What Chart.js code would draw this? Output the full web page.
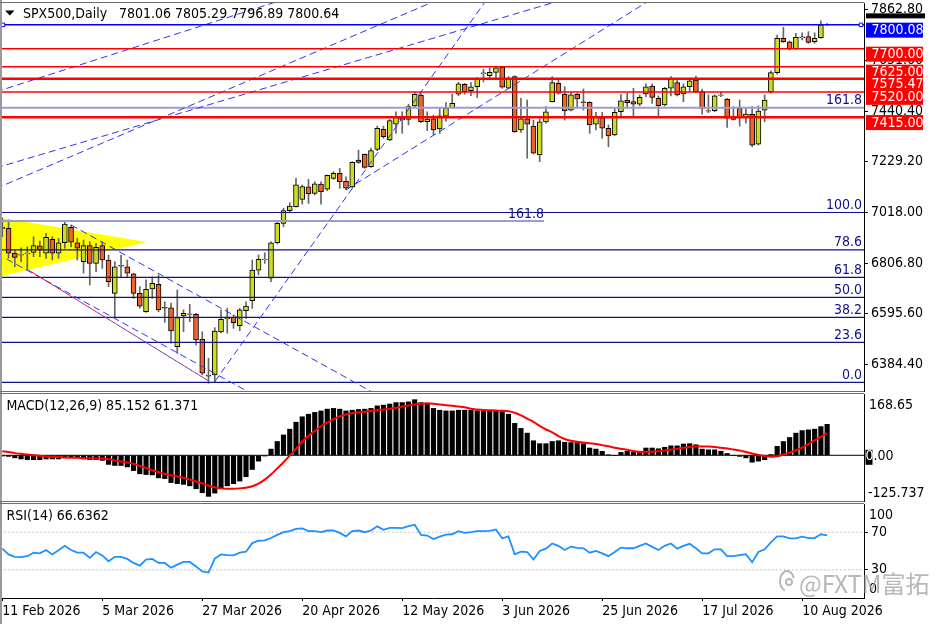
<!DOCTYPE html>
<html>
<head>
<meta charset="utf-8">
<script src="https://cdn.jsdelivr.net/npm/chart.js@4.4.1/dist/chart.umd.min.js"></script>
<style>
html, body { margin: 0; padding: 0; background: #fff; }
#wrap { position: relative; width: 936px; height: 624px; background: #fff; overflow: hidden; }
canvas { position: absolute; left: 0; }
</style>
</head>
<body>
<div id="wrap">
  <canvas id="main" width="936" height="393" style="top:0px"></canvas>
  <canvas id="macd" width="936" height="110" style="top:393px"></canvas>
  <canvas id="rsi" width="936" height="121" style="top:503px"></canvas>
</div>
<script>
// SPX500 daily, MT4 style: candles + levels, MACD, RSI

// ---- data ----
const dateTicks = [0, 16, 32, 48, 64, 80, 96, 112, 128];
const dateLabels = ['11 Feb 2026', '5 Mar 2026', '27 Mar 2026', '20 Apr 2026', '12 May 2026',
    '3 Jun 2026', '25 Jun 2026', '17 Jul 2026', '10 Aug 2026'];
const priceTicks = [6384.4, 6595.6, 6806.8, 7018.0, 7229.2, 7440.4, 7651.6, 7862.8];

const opens = [
    6956, 6952, 6848, 6840, 6846, 6852, 6879, 6848, 6906, 6848,
    6892, 6956, 6892, 6813, 6880, 6806, 6880, 6820, 6681, 6794,
    6792, 6762, 6681, 6605, 6699, 6719, 6623, 6621, 6459, 6587,
    6596, 6594, 6490, 6340, 6341, 6520, 6574, 6581, 6546, 6609,
    6650, 6778, 6821, 6744, 6892, 6973, 7026, 7042, 7073, 7125,
    7098, 7136, 7115, 7160, 7181, 7148, 7125, 7237, 7260, 7209,
    7281, 7365, 7320, 7386, 7404, 7406, 7462, 7507, 7397, 7408,
    7366, 7420, 7455, 7511, 7552, 7526, 7542, 7596, 7588, 7602,
    7623, 7536, 7584, 7362, 7408, 7378, 7258, 7396, 7480, 7556,
    7512, 7445, 7511, 7479, 7477, 7386, 7413, 7369, 7341, 7438,
    7487, 7480, 7469, 7512, 7545, 7494, 7466, 7536, 7559, 7512,
    7542, 7570, 7522, 7443, 7442, 7506, 7490, 7415, 7452, 7415,
    7427, 7303, 7445, 7521, 7601, 7744, 7729, 7700, 7746, 7751,
    7730, 7747, 7801.06
];
const highs = [
    6996, 6987, 6862, 6871, 6875, 6917, 6899, 6931, 6917, 6910,
    6980, 6966, 6910, 6903, 6896, 6890, 6896, 6841, 6813, 6841,
    6820, 6765, 6709, 6737, 6750, 6758, 6646, 6640, 6695, 6612,
    6635, 6598, 6521, 6410, 6538, 6612, 6619, 6591, 6619, 6646,
    6820, 6841, 6850, 6896, 6980, 7036, 7059, 7161, 7133, 7156,
    7146, 7146, 7174, 7188, 7202, 7167, 7230, 7278, 7262, 7286,
    7378, 7378, 7406, 7438, 7438, 7469, 7517, 7517, 7438, 7424,
    7452, 7476, 7511, 7561, 7556, 7559, 7580, 7615, 7621, 7626,
    7626, 7584, 7588, 7494, 7487, 7403, 7408, 7459, 7584, 7577,
    7542, 7519, 7515, 7533, 7480, 7436, 7436, 7383, 7452, 7511,
    7515, 7536, 7508, 7554, 7554, 7504, 7540, 7584, 7577, 7554,
    7577, 7587, 7532, 7508, 7508, 7521, 7494, 7459, 7487, 7452,
    7459, 7462, 7508, 7609, 7758, 7790, 7733, 7765, 7767, 7772,
    7767, 7817, 7805.29
];
const lows = [
    6917, 6828, 6792, 6813, 6778, 6834, 6834, 6827, 6820, 6827,
    6869, 6875, 6820, 6765, 6716, 6771, 6785, 6709, 6577, 6750,
    6750, 6660, 6619, 6602, 6660, 6604, 6560, 6473, 6431, 6521,
    6563, 6466, 6341, 6306, 6313, 6516, 6515, 6535, 6525, 6577,
    6619, 6758, 6806, 6730, 6887, 6959, 7017, 7040, 7053, 7056,
    7091, 7053, 7109, 7156, 7119, 7112, 7121, 7223, 7202, 7206,
    7276, 7327, 7317, 7348, 7348, 7383, 7459, 7392, 7359, 7341,
    7348, 7399, 7452, 7505, 7511, 7505, 7497, 7562, 7574, 7580,
    7536, 7533, 7352, 7352, 7244, 7262, 7230, 7390, 7478, 7511,
    7403, 7441, 7452, 7445, 7348, 7362, 7327, 7292, 7338, 7417,
    7452, 7417, 7463, 7501, 7473, 7420, 7462, 7504, 7504, 7480,
    7522, 7517, 7428, 7434, 7438, 7501, 7373, 7403, 7378, 7390,
    7292, 7299, 7396, 7515, 7595, 7727, 7695, 7698, 7737, 7723,
    7723, 7744, 7796.89
];
const closes = [
    6952, 6848, 6831, 6843, 6849, 6880, 6862, 6915, 6848, 6892,
    6970, 6894, 6869, 6880, 6806, 6873, 6820, 6730, 6792, 6798,
    6765, 6681, 6628, 6698, 6723, 6612, 6619, 6524, 6580, 6598,
    6593, 6487, 6348, 6336, 6524, 6573, 6582, 6559, 6612, 6628,
    6778, 6823, 6824, 6892, 6973, 7026, 7045, 7133, 7126, 7095,
    7137, 7105, 7173, 7181, 7146, 7119, 7227, 7227, 7206, 7276,
    7369, 7334, 7401, 7415, 7411, 7459, 7511, 7397, 7407, 7362,
    7421, 7452, 7473, 7554, 7521, 7542, 7574, 7600, 7602, 7621,
    7540, 7574, 7355, 7408, 7386, 7265, 7396, 7438, 7559, 7515,
    7441, 7508, 7491, 7476, 7383, 7417, 7369, 7337, 7436, 7483,
    7476, 7469, 7498, 7542, 7498, 7463, 7536, 7574, 7508, 7542,
    7567, 7522, 7452, 7440, 7504, 7508, 7411, 7406, 7415, 7428,
    7299, 7441, 7487, 7601, 7744, 7730, 7700, 7748, 7750, 7727,
    7744, 7800, 7800.64
];

const macdMain = [
    -2, -3, -7, -10, -12, -12, -12, -10, -10, -10,
    -7, -5, -7, -10, -12, -12, -14, -25, -28, -28,
    -32, -42, -51, -53, -54, -62, -64, -75, -78, -80,
    -84, -92, -103, -113, -104, -92, -84, -78, -71, -59,
    -39, -16, -2, 17, 38, 56, 72, 91, 106, 113,
    118, 122, 127, 129, 127, 122, 124, 126, 127, 129,
    136, 138, 141, 145, 145, 147, 153, 145, 142, 129,
    124, 122, 122, 124, 124, 124, 122.5, 122.5, 122.5, 122.5,
    120, 113, 88, 74, 61, 40, 32, 32, 38, 40,
    36, 35, 35, 32, 20, 17, 11, 1, 0, 8,
    11, 8, 8, 20, 20, 18, 22, 26, 26, 31,
    32, 29, 17, 15, 15, 11, 5, 0, -3, -7,
    -19, -16, -12, 2, 24.5, 38, 49, 61, 68, 70,
    72, 79, 85.152
];
const macdSignal = [
    11, 9, 6, 4, 2, 0, -1, -3, -4, -5,
    -6, -7, -7, -8, -8, -9, -9, -11, -14, -17,
    -20, -23, -29, -35, -41, -46, -51, -55, -58, -62,
    -67, -72, -77, -83, -88, -91, -92, -92, -91, -89,
    -85, -78, -67, -53, -36, -19, -1, 18, 38, 54,
    67, 80, 90, 99, 107, 112, 116, 118, 120, 122,
    124, 126, 128, 131, 134, 137, 140, 142, 143, 142,
    140, 138, 136, 134, 132, 128, 126, 124.5, 124, 123.5,
    122.5, 121, 117, 110, 101, 92, 81, 71, 63, 53,
    45, 40, 37, 35, 33, 31, 28, 25, 21, 18,
    15, 12, 10, 9, 10, 11, 13, 16, 18, 21,
    23, 24.5, 24.5, 24, 23, 21, 19, 16, 13, 9,
    5, 1, -2, -4, -3, 2, 7, 14, 21, 31,
    41, 51, 61.371
];
const rsiValues = [
    52.5, 46.4, 43.8, 43.5, 44.5, 48.2, 47.5, 51.1, 46.4, 50.7,
    55.5, 51.1, 48.2, 48.2, 42.7, 48.9, 45.3, 39.1, 43.8, 43.8,
    41.6, 37.3, 34.4, 40.9, 41.6, 37.3, 37.3, 32.2, 35.5, 38.4,
    38.4, 33.6, 28.2, 27.1, 42, 46.4, 45.6, 45.3, 48.2, 49.3,
    58.4, 60.9, 61.3, 63.8, 67.1, 70, 71.1, 73.6, 74, 71.1,
    71.1, 70, 71.8, 71.8, 69.3, 65.6, 71.1, 71.8, 70, 71.8,
    76.2, 72.5, 74.7, 74.7, 74.4, 76.5, 78, 67.1, 66.4, 62.7,
    65.3, 67.5, 67.8, 71.1, 69.3, 70, 71.1, 71.1, 71.5, 72.9,
    63.5, 65.6, 46.4, 49.3, 48.9, 40.9, 50, 52.5, 58, 55.5,
    51.1, 54.7, 53.3, 52.9, 48.2, 50, 47.5, 44.5, 48.9, 53.6,
    52.9, 52.9, 55.5, 58, 54.4, 51.1, 55.5, 58, 52.5, 55.5,
    57.6, 52.9, 47.5, 47.5, 51.8, 51.8, 44.5, 44.5, 45.6, 46.7,
    38, 48.9, 51.8, 59.1, 65.6, 65.6, 63.5, 63.5, 65.3, 63.8,
    63.8, 67.8, 66.6362
];
const rsiLevels = [70, 30];

// horizontal objects on the price chart
const bidPrice = 7800.08;
const levelPrices = [7700, 7625, 7575.47, 7520, 7415];
const fibNames = ['0.0', '23.6', '38.2', '50.0', '61.8', '78.6', '100.0', '161.8'];
const fibPrices = [6310, 6477, 6581, 6664.5, 6748, 6862.5, 7018, 7455];
const fib2Price = 6982.6;
const fib2EndBar = 86.7;

// trend lines as [bar, price] pairs
const blueTrends = [
    [[-1, 7521], [46, 7914]],
    [[-1, 7204], [90, 7907]],
    [[-1, 7118], [71, 7919]],
    [[34, 6313], [79, 7960]],
    [[55, 7112], [105, 7925]],
    [[11, 6966], [62, 6229]],
    [[0.7, 6824], [42, 6233]]
];
const redTrend = [[4.2, 6778], [33, 6316]];
const triangleTop = [[-1, 6999], [23.1, 6895]];
const triangleBottom = [[-1, 6747], [23.1, 6895]];

// ---- look ----
const FONT = "'DejaVu Sans Condensed', 'DejaVu Sans', sans-serif";
Chart.defaults.font.family = FONT;
Chart.defaults.font.size = 14;
Chart.defaults.color = '#000';

const X_MIN = -0.05, X_MAX = 137.9;
const AXIS_W = 72;
const BULL = '#cddc1e';
const BEAR = '#f0642a';
const WICK = '#666666';
const NAVY = '#10108c';
const BLUE = '#0000ff';
const RED = '#ff0000';
const TREND = '#3232f0';

function lineSet(pts, color, width, dash, order) {
    return {
        type: 'line',
        data: pts.map(p => ({ x: p[0], y: p[1] })),
        borderColor: color,
        borderWidth: width,
        borderDash: dash || [],
        pointRadius: 0,
        fill: false,
        tension: 0,
        order: order,
        clip: 0
    };
}

function hLine(price, color, width, order, toBar) {
    return lineSet([[X_MIN - 1, price], [toBar === undefined ? X_MAX + 1 : toBar, price]], color, width, [], order);
}

function yAxis(min, max, ticks, extra) {
    return Object.assign({
        type: 'linear',
        position: 'right',
        min: min,
        max: max,
        bounds: 'data',
        beginAtZero: false,
        grid: { drawOnChartArea: false, tickLength: 4, tickColor: '#000', color: '#000' },
        border: { display: true, color: '#000', width: 1 },
        ticks: { autoSkip: false, padding: 3, color: '#000', font: { family: FONT, size: 14 } },
        afterBuildTicks: s => { s.ticks = ticks.map(v => ({ value: v })); },
        afterFit: s => { s.width = AXIS_W; s.paddingTop = 0; s.paddingBottom = 0; }
    }, extra);
}

function hiddenX() {
    return {
        type: 'linear', min: X_MIN, max: X_MAX, bounds: 'data', offset: false,
        display: false, grid: { offset: false }
    };
}

function baseOptions(padding, x, y) {
    return {
        responsive: false,
        animation: false,
        events: [],
        layout: { padding: padding, autoPadding: false },
        plugins: { legend: { display: false }, tooltip: { enabled: false } },
        scales: { x: x, y: y }
    };
}

function drawFrame(chart, withBottom) {
    const { ctx, chartArea: a, height } = chart;
    ctx.save();
    ctx.fillStyle = '#9a9a9a';
    ctx.fillRect(0, 0, 2, height);
    ctx.strokeStyle = '#6e6e6e';
    ctx.lineWidth = 1;
    ctx.beginPath();
    ctx.moveTo(0, a.top - 0.5);
    ctx.lineTo(a.right, a.top - 0.5);
    if (withBottom) {
        ctx.moveTo(0, a.bottom + 0.5);
        ctx.lineTo(a.right, a.bottom + 0.5);
    }
    ctx.stroke();
    ctx.restore();
}

function priceBox(ctx, a, yPix, bg, text) {
    const cy = yPix + 5.3;
    ctx.fillStyle = bg;
    ctx.fillRect(a.right + 2, cy - 7.5, 57, 15);
    ctx.fillStyle = '#fff';
    ctx.textAlign = 'left';
    ctx.textBaseline = 'middle';
    ctx.fillText(text, a.right + 7.5, cy + 0.5);
}

// ---- price chart ----
const bars = opens.map((o, i) => i);
const wickData = bars.map(i => ({ x: i, y: [lows[i], highs[i]] }));
const bodyData = bars.map(i => ({ x: i, y: [opens[i], closes[i]] }));
const bodyColors = bars.map(i => closes[i] >= opens[i] ? BULL : BEAR);

const mainSets = [];
mainSets.push(lineSet(triangleTop, '#ffff00', 0, [], 30));
mainSets.push(Object.assign(lineSet(triangleBottom, '#ffff00', 0, [], 30),
    { fill: '-1', backgroundColor: '#ffff00' }));
mainSets.push({
    type: 'bar', data: wickData, backgroundColor: WICK,
    barThickness: 1, grouped: false, order: 20, clip: 0
});
mainSets.push({
    type: 'bar', data: bodyData, backgroundColor: bodyColors,
    borderColor: '#000', borderWidth: 1, borderSkipped: false,
    barThickness: 5, grouped: false, order: 19, clip: 0
});
fibPrices.forEach((p, i) => {
    if (fibNames[i] === '161.8') mainSets.push(hLine(p, '#9c9cd2', 2, 5));
    else mainSets.push(hLine(p, NAVY, 1.2, 5));
});
mainSets.push(hLine(fib2Price, '#9c9cd2', 2, 5, fib2EndBar));
blueTrends.forEach(t => mainSets.push(lineSet(t, TREND, 1, [7, 4], 4)));
mainSets.push(lineSet(redTrend, '#5050ff', 1, [3, 3], 4));
mainSets.push(Object.assign(lineSet(redTrend, RED, 1, [3, 3], 3), { borderDashOffset: 3 }));
levelPrices.forEach(p => {
    const thick = (p === 7575.47 || p === 7415);
    mainSets.push(hLine(p, RED, thick ? 2.5 : 1.5, 2));
});
mainSets.push(Object.assign(
    lineSet([[X_MIN - 1, bidPrice], [0.11, bidPrice], [137.42, bidPrice], [X_MAX + 1, bidPrice]], BLUE, 1.5, [], 1),
    { pointRadius: [0, 2.5, 2.5, 0], pointStyle: 'rect', pointBackgroundColor: '#fff',
      pointBorderColor: BLUE, pointBorderWidth: 1 }));

const mainOverlay = {
    id: 'mainOverlay',
    afterDraw(chart) {
        const { ctx, chartArea: a, scales: { x, y } } = chart;
        drawFrame(chart, true);
        ctx.save();
        ctx.font = '14px ' + FONT;

        // fibonacci level names
        ctx.fillStyle = NAVY;
        ctx.textAlign = 'right';
        ctx.textBaseline = 'alphabetic';
        fibPrices.forEach((p, i) => ctx.fillText(fibNames[i], a.right - 2, y.getPixelForValue(p) - 3.5));
        ctx.fillText('161.8', x.getPixelForValue(fib2EndBar), y.getPixelForValue(fib2Price) - 2.5);

        // price labels on the axis
        const bidY = y.getPixelForValue(bidPrice);
        ctx.fillStyle = '#000';
        ctx.fillRect(a.right + 2, bidY - 11.5, 59, 5);
        priceBox(ctx, a, bidY, BLUE, bidPrice.toFixed(2));
        levelPrices.forEach(p => priceBox(ctx, a, y.getPixelForValue(p), RED, p.toFixed(2)));

        // title
        const last = opens.length - 1;
        ctx.fillStyle = '#000';
        ctx.beginPath();
        ctx.moveTo(5, 10.5); ctx.lineTo(14.5, 10.5); ctx.lineTo(9.75, 15.5);
        ctx.closePath();
        ctx.fill();
        ctx.textAlign = 'left';
        ctx.textBaseline = 'middle';
        ctx.fillText('SPX500,Daily', 23, a.top + 11);
        ctx.fillText([opens[last], highs[last], lows[last], closes[last]].map(v => v.toFixed(2)).join(' '),
            119, a.top + 11);
        ctx.restore();
    }
};

new Chart(document.getElementById('main'), {
    type: 'bar',
    data: { datasets: mainSets },
    options: baseOptions({ left: 2, top: 3, bottom: 2, right: 0 }, hiddenX(),
        yAxis(6274, 7891.2, priceTicks, {
            ticks: { autoSkip: false, padding: 3, color: '#000', font: { family: FONT, size: 14 },
                callback: v => Number(v).toFixed(2) }
        })),
    plugins: [mainOverlay]
});

// ---- MACD ----
const MACD_MAX = 168.65, MACD_MIN = -125.737;
const macdOverlay = {
    id: 'macdOverlay',
    afterDraw(chart) {
        const { ctx, chartArea: a, scales: { y } } = chart;
        drawFrame(chart, true);
        ctx.save();
        ctx.font = '14px ' + FONT;
        ctx.fillStyle = '#000';
        ctx.textAlign = 'left';
        ctx.textBaseline = 'middle';
        ctx.fillText('MACD(12,26,9) ' + macdMain[macdMain.length - 1].toFixed(3) + ' ' +
            macdSignal[macdSignal.length - 1].toFixed(3), 6.5, a.top + 12);
        ctx.fillText(MACD_MAX.toFixed(2), a.right + 5, a.top + 11);
        ctx.fillText(String(MACD_MIN), a.right + 4, a.bottom - 8);
        // zero label, first digit sits in a dark marker
        const zy = y.getPixelForValue(0);
        ctx.fillRect(a.right + 1.5, zy - 5.5, 7, 15);
        ctx.fillStyle = '#fff';
        ctx.fillText('0', a.right + 1.5, zy + 1.5);
        ctx.fillStyle = '#000';
        ctx.fillText('.00', a.right + 9.5, zy + 1.5);
        ctx.restore();
    }
};

new Chart(document.getElementById('macd'), {
    type: 'bar',
    data: {
        datasets: [
            hLine(0, '#000', 1, 10),
            {
                type: 'bar', data: bars.map(i => ({ x: i, y: macdMain[i] })),
                backgroundColor: '#000', barThickness: 4.5, grouped: false, order: 5, clip: 0
            },
            Object.assign(lineSet(bars.map(i => [i, macdSignal[i]]), RED, 2, [], 1), { tension: 0.3 })
        ]
    },
    options: baseOptions({ left: 2, top: 1, bottom: 2, right: 0 }, hiddenX(),
        yAxis(MACD_MIN, MACD_MAX, [0], {
            grid: { drawOnChartArea: false, drawTicks: false, color: '#000' },
            ticks: { display: false }
        })),
    plugins: [macdOverlay]
});

// ---- RSI ----
const rsiOverlay = {
    id: 'rsiOverlay',
    afterDraw(chart) {
        const { ctx, chartArea: a } = chart;
        drawFrame(chart, false);
        ctx.save();
        ctx.font = '14px ' + FONT;
        ctx.fillStyle = '#000';
        ctx.textAlign = 'left';
        ctx.textBaseline = 'middle';
        ctx.fillText('RSI(14) ' + rsiValues[rsiValues.length - 1].toFixed(4), 6.5, a.top + 12);
        ctx.fillText('100', a.right + 5, a.top + 11);
        ctx.fillText('0', a.right + 5, a.bottom - 9);

        // watermark
        ctx.strokeStyle = 'rgba(165,165,165,0.8)';
        ctx.lineWidth = 2;
        ctx.beginPath();
        ctx.ellipse(787, a.bottom - 17, 7, 10, 0, 0.6 * Math.PI, 1.9 * Math.PI);
        ctx.stroke();
        ctx.beginPath();
        ctx.arc(789, a.bottom - 16, 3, 0, 2 * Math.PI);
        ctx.stroke();
        ctx.fillStyle = 'rgba(165,165,165,0.8)';
        ctx.font = "24px 'Noto Sans CJK SC', sans-serif";
        ctx.textBaseline = 'alphabetic';
        ctx.fillText('@FXTM富拓', 799, a.bottom - 5);
        ctx.restore();
    }
};

new Chart(document.getElementById('rsi'), {
    type: 'line',
    data: {
        datasets: [
            Object.assign(hLine(rsiLevels[0], '#c0c0c0', 1, 5), { borderDash: [2, 2] }),
            Object.assign(hLine(rsiLevels[1], '#c0c0c0', 1, 5), { borderDash: [2, 2] }),
            lineSet(bars.map(i => [i, rsiValues[i]]), '#1e90ff', 1.8, [], 1)
        ]
    },
    options: baseOptions({ left: 2, top: 1, bottom: 0, right: 0 }, {
            type: 'linear', min: X_MIN, max: X_MAX, bounds: 'data', offset: false,
            position: 'bottom',
            grid: { drawOnChartArea: false, tickLength: 3, tickColor: '#000', offset: false },
            border: { display: true, color: '#000', width: 1 },
            ticks: {
                autoSkip: false, maxRotation: 0, minRotation: 0, align: 'start', padding: 2,
                color: '#000', font: { family: FONT, size: 14 },
                callback: v => dateLabels[dateTicks.indexOf(v)]
            },
            afterBuildTicks: s => { s.ticks = dateTicks.map(v => ({ value: v })); },
            afterFit: s => { s.height = 26; s.paddingLeft = 0; s.paddingRight = 0; }
        },
        yAxis(0, 100, rsiLevels, {
            ticks: { autoSkip: false, padding: 3, color: '#000', font: { family: FONT, size: 14 },
                callback: v => String(v) }
        })),
    plugins: [rsiOverlay]
});
</script>
</body>
</html>
